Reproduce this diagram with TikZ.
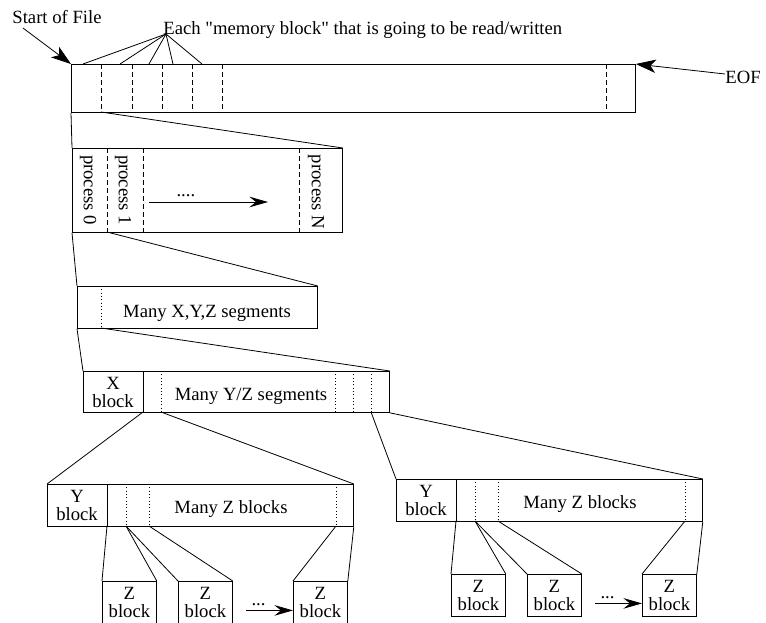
\documentclass[tikz,border=0pt]{standalone}
\usepackage{fontspec}
\setmainfont{Liberation Serif}[Ligatures=TeXOff]
\usetikzlibrary{arrows.meta}

\tikzset{
  seg/.style n args={2}{draw, inner sep=0pt, anchor=north west, align=center,
    minimum width=#1*0.75pt, minimum height=#2*0.75pt},
  lab/.style={inner sep=0pt},
  cut/.style={dash pattern=on 3.5pt off 2.5pt},
  sub/.style={dotted, line width=0.5pt},
  pick/.style={-{Stealth[length=15pt,width=10pt,inset=4pt]}},
  next/.style={-{Stealth[length=14pt,width=8pt,inset=5pt]}},
}

\begin{document}
\begin{tikzpicture}[x=0.75pt, y=-0.75pt, line width=0.6pt,
    every node/.style={font=\fontsize{14}{13.5}\selectfont}]
  \useasboundingbox (0,0) rectangle (766,622);

  % the whole file
  \node[seg={564}{48}] (file) at (71,64) {};
  \foreach \x in {101,132,162,192,222,606}
    \draw[cut] (\x,64) -- (\x,112);
  \node[lab, anchor=base west] (sof) at (12,23) {Start of File};
  \node[lab, anchor=base west] (eof) at (725,83) {EOF};
  \node[lab, anchor=base west] (each) at (163,34)
    {Each "memory block" that is going to be read/written};
  \coordinate (sofarrow) at (23,28);
  \coordinate (eofarrow) at (725,74);
  \draw[pick] (sofarrow) -- (file.north west);
  \draw[pick] (eofarrow) -- (file.north east);
  \coordinate (mb) at (166,34);
  \foreach \x [count=\i] in {83,120,149,173,202} {
    \coordinate (mb\i) at (\x,64);
    \draw (mb) -- (mb\i);
  }

  % one block split over the processes
  \node[seg={270}{84}] (proc) at (72,148) {};
  \foreach \x in {107,143,299}
    \draw[cut] (\x,148) -- (\x,232);
  \coordinate (f1) at (101,112);
  \draw (file.south west) -- (proc.north west);
  \draw (f1) -- (proc.north east);
  \node[rotate=-90] (p0) at (88,190) {process 0};
  \node[rotate=-90] (p1) at (123,190) {process 1};
  \node[rotate=-90] (pn) at (316,192) {process N};
  \coordinate (pa) at (149,202);
  \coordinate (pb) at (268,202);
  \draw[next] (pa) -- node[pos=0.31, above] {....} (pb);

  % X,Y,Z segments
  \node[seg={240}{42}] (xyz) at (77,286) {};
  \draw[sub] (101,286) -- (101,328);
  \node[lab, anchor=base] (xyzlab) at (207,317) {Many X,Y,Z segments};
  \coordinate (pr1) at (107,232);
  \draw (proc.south west) -- (xyz.north west);
  \draw (pr1) -- (xyz.north east);

  % X block + Y/Z segments
  \node[seg={306}{41}] (xseg) at (83,371) {};
  \draw (143,371) -- (143,412);
  \foreach \x in {161,335,353,371}
    \draw[sub] (\x,371) -- (\x,412);
  \node[align=center, inner sep=0pt] (xlab) at (113,392) {X\\block};
  \node[lab, anchor=base] (yzlab) at (251,400) {Many Y/Z segments};
  \coordinate (s1) at (101,328);
  \draw (xyz.south west) -- (xseg.north west);
  \draw (s1) -- (xseg.north east);
  \coordinate (x1) at (143,412);
  \coordinate (x2) at (161,412);
  \coordinate (x3) at (371,412);

  % Y block + Z blocks, twice
  \foreach \s/\xo/\yo/\zy in {L/47/484/581, R/396/479/574} {
    \node[seg={306}{42}] (y\s) at (\xo,\yo) {};
    \draw ({\xo+60},\yo) -- ++(0,42);
    \foreach \d in {79,102,289}
      \draw[sub] ({\xo+\d},\yo) -- ++(0,42);
    \node[align=center, inner sep=0pt] at ({\xo+30},{\yo+21}) {Y\\block};
    \node[lab, anchor=base] at ({\xo+184},{\yo+29}) {Many Z blocks};
    \foreach \z/\zx in {1/55,2/131,3/246}
      \node[seg={54}{42}] (z\s\z) at ({\xo+\zx},\zy) {Z\\block};
    \foreach \d [count=\i from 0] in {60,79,102,289}
      \coordinate (d\s\i) at ({\xo+\d},{\yo+42});
    \draw (d\s0) -- (z\s1.north west);
    \draw (d\s1) -- (z\s1.north east);
    \draw (d\s1) -- (z\s2.north west);
    \draw (d\s2) -- (z\s2.north east);
    \draw (d\s3) -- (z\s3.north west);
    \draw (y\s.south east) -- (z\s3.north east);
    \draw[next] ([shift={(13,8)}]z\s2.east) -- node[pos=0.27, above] {...}
      ([shift={(0,8)}]z\s3.west);
  }
  \draw (x1) -- (yL.north west);
  \draw (x2) -- (yL.north east);
  \draw (x3) -- (yR.north west);
  \draw (xseg.south east) -- (yR.north east);
\end{tikzpicture}
\end{document}
